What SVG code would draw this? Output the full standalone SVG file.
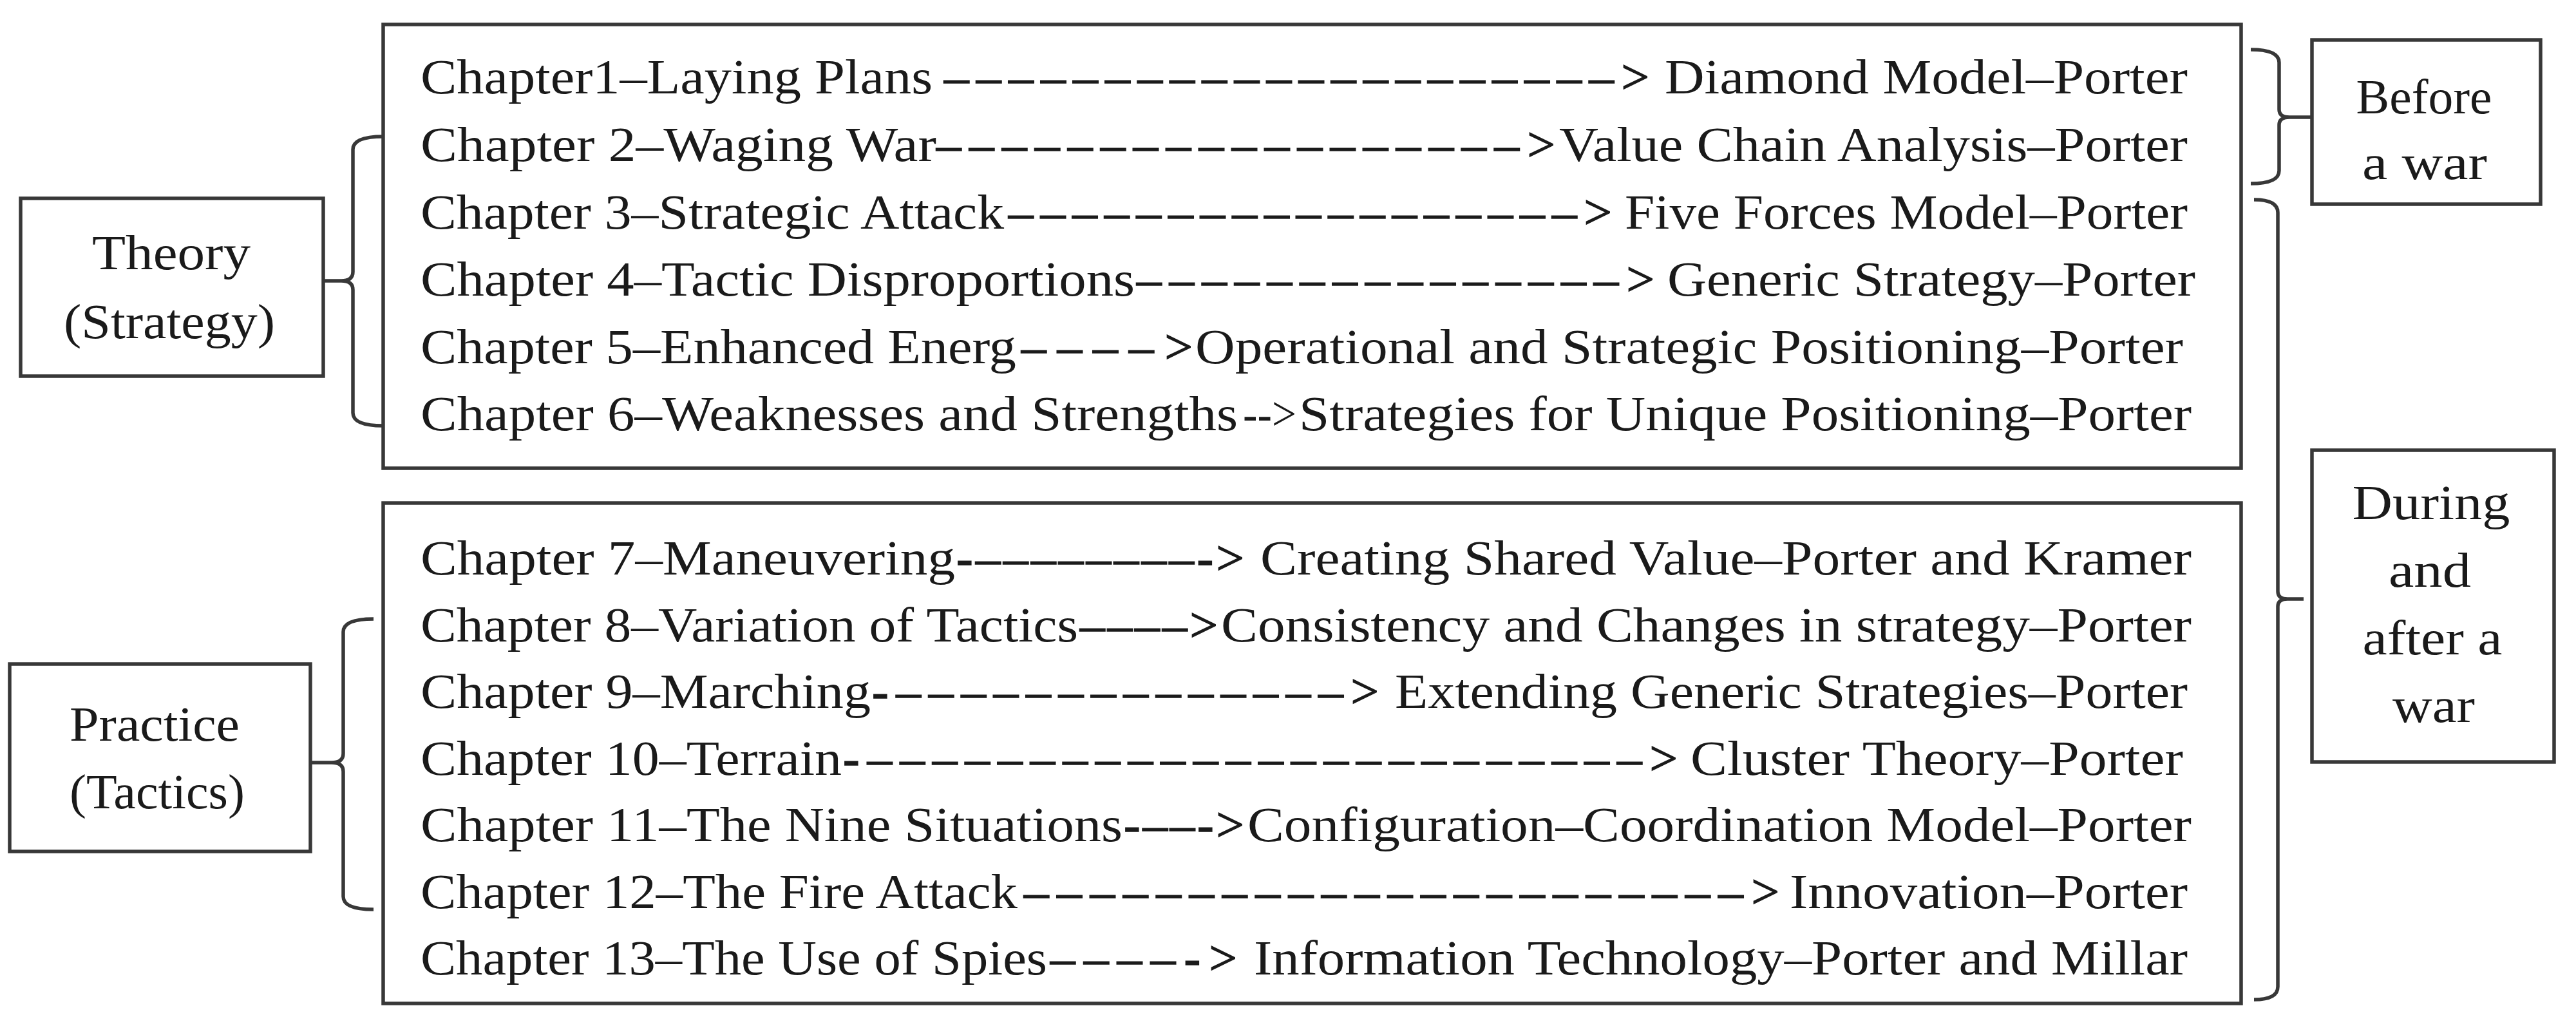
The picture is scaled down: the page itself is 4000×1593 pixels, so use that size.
<svg xmlns="http://www.w3.org/2000/svg" width="4000" height="1593" viewBox="0 0 4000 1593">
<style>
  .box { fill: #ffffff; stroke: #383838; stroke-width: 5.5; }
  .brace { fill: none; stroke: #383838; stroke-width: 5.5; stroke-linejoin: round; stroke-linecap: butt; }
  text { font-family: "Liberation Serif", "Times New Roman", serif; font-size: 77px; fill: #1a1a1a; }
  .dash { stroke: #1a1a1a; stroke-width: 1.5; }
  .lbl { text-anchor: middle; }
</style>
<rect x="0" y="0" width="4000" height="1593" fill="#ffffff"/>

<g id="connectors">
  <path class="brace" d="M595,212 Q548,212 548,232 L548,422 Q548,436 530,436 L502,436 M530,436 Q548,436 548,450 L548,641 Q548,661 595,661"/>
  <path class="brace" d="M580,961 Q533,961 533,981 L533,1170 Q533,1184 515,1184 L484,1184 M515,1184 Q533,1184 533,1198 L533,1392 Q533,1412 580,1412"/>
  <path class="brace" d="M3495,77 Q3539,77 3539,97 L3539,170 Q3539,182 3555,182 L3590,182 M3555,182 Q3539,182 3539,194 L3539,265 Q3539,285 3495,285"/>
  <path class="brace" d="M3500,310 Q3537,310 3537,330 L3537,918 Q3537,930 3552,930 L3577,930 M3552,930 Q3537,930 3537,942 L3537,1532 Q3537,1552 3500,1552"/>
</g>

<g id="theory">
  <rect class="box" x="32" y="308" width="470" height="276"/>
  <text class="lbl" x="266" y="418" textLength="246" lengthAdjust="spacingAndGlyphs">Theory</text>
  <text class="lbl" x="263" y="525" textLength="328" lengthAdjust="spacingAndGlyphs">(Strategy)</text>
</g>

<g id="practice">
  <rect class="box" x="15" y="1031" width="467" height="291"/>
  <text class="lbl" x="240" y="1150" textLength="264" lengthAdjust="spacingAndGlyphs">Practice</text>
  <text class="lbl" x="244" y="1255" textLength="272" lengthAdjust="spacingAndGlyphs">(Tactics)</text>
</g>

<g id="before">
  <rect class="box" x="3590" y="62" width="355" height="255"/>
  <text class="lbl" x="3764" y="176" textLength="211" lengthAdjust="spacingAndGlyphs">Before</text>
  <text class="lbl" x="3765" y="278" textLength="194" lengthAdjust="spacingAndGlyphs">a war</text>
</g>

<g id="during">
  <rect class="box" x="3590" y="699" width="376" height="484"/>
  <text class="lbl" x="3775" y="806" textLength="245" lengthAdjust="spacingAndGlyphs">During</text>
  <text class="lbl" x="3773" y="911" textLength="128" lengthAdjust="spacingAndGlyphs">and</text>
  <text class="lbl" x="3777" y="1016" textLength="217" lengthAdjust="spacingAndGlyphs">after a</text>
  <text class="lbl" x="3779" y="1121" textLength="128" lengthAdjust="spacingAndGlyphs">war</text>
</g>

<g id="strategy-chapters">
  <rect class="box" x="595" y="38" width="2885" height="689"/>
  <g id="ch1">
    <text x="653" y="145" textLength="795" lengthAdjust="spacingAndGlyphs">Chapter1–Laying Plans</text>
    <text class="dash" x="1466" y="145" textLength="1095" lengthAdjust="spacing">–––––––––––––––––––––&gt;</text>
    <text x="2585" y="145" textLength="812" lengthAdjust="spacingAndGlyphs">Diamond Model–Porter</text>
  </g>
  <g id="ch2">
    <text x="653" y="250" textLength="801" lengthAdjust="spacingAndGlyphs">Chapter 2–Waging War</text>
    <text class="dash" x="1454" y="250" textLength="961" lengthAdjust="spacing">––––––––––––––––––&gt;</text>
    <text x="2421" y="250" textLength="976" lengthAdjust="spacingAndGlyphs">Value Chain Analysis–Porter</text>
  </g>
  <g id="ch3">
    <text x="653" y="355" textLength="906" lengthAdjust="spacingAndGlyphs">Chapter 3–Strategic Attack</text>
    <text class="dash" x="1566" y="355" textLength="937" lengthAdjust="spacing">––––––––––––––––––&gt;</text>
    <text x="2523" y="355" textLength="874" lengthAdjust="spacingAndGlyphs">Five Forces Model–Porter</text>
  </g>
  <g id="ch4">
    <text x="653" y="459" textLength="1109" lengthAdjust="spacingAndGlyphs">Chapter 4–Tactic Disproportions</text>
    <text class="dash" x="1765" y="459" textLength="804" lengthAdjust="spacing">–––––––––––––––&gt;</text>
    <text x="2589" y="459" textLength="820" lengthAdjust="spacingAndGlyphs">Generic Strategy–Porter</text>
  </g>
  <g id="ch5">
    <text x="653" y="564" textLength="925" lengthAdjust="spacingAndGlyphs">Chapter 5–Enhanced Energ</text>
    <text class="dash" x="1586" y="564" textLength="266" lengthAdjust="spacing">––––&gt;</text>
    <text x="1856" y="564" textLength="1534" lengthAdjust="spacingAndGlyphs">Operational and Strategic Positioning–Porter</text>
  </g>
  <g id="ch6">
    <text x="653" y="668" textLength="1269" lengthAdjust="spacingAndGlyphs">Chapter 6–Weaknesses and Strengths</text>
    <text x="1930" y="668" textLength="83" lengthAdjust="spacingAndGlyphs">--&gt;</text>
    <text x="2017" y="668" textLength="1386" lengthAdjust="spacingAndGlyphs">Strategies for Unique Positioning–Porter</text>
  </g>
</g>

<g id="tactics-chapters">
  <rect class="box" x="595" y="781" width="2885" height="777"/>
  <g id="ch7">
    <text x="653" y="892" textLength="830" lengthAdjust="spacingAndGlyphs">Chapter 7–Maneuvering</text>
    <text class="dash" x="1485" y="892" textLength="447" lengthAdjust="spacing">-––––––––-&gt;</text>
    <text x="1957" y="892" textLength="1446" lengthAdjust="spacingAndGlyphs">Creating Shared Value–Porter and Kramer</text>
  </g>
  <g id="ch8">
    <text x="653" y="996" textLength="1021" lengthAdjust="spacingAndGlyphs">Chapter 8–Variation of Tactics</text>
    <text class="dash" x="1677" y="996" textLength="214" lengthAdjust="spacing">––––&gt;</text>
    <text x="1896" y="996" textLength="1507" lengthAdjust="spacingAndGlyphs">Consistency and Changes in strategy–Porter</text>
  </g>
  <g id="ch9">
    <text x="653" y="1099" textLength="699" lengthAdjust="spacingAndGlyphs">Chapter 9–Marching</text>
    <text class="dash" x="1354" y="1099" textLength="787" lengthAdjust="spacing">-––––––––––––––&gt;</text>
    <text x="2166" y="1099" textLength="1231" lengthAdjust="spacingAndGlyphs">Extending Generic Strategies–Porter</text>
  </g>
  <g id="ch10">
    <text x="653" y="1203" textLength="654" lengthAdjust="spacingAndGlyphs">Chapter 10–Terrain</text>
    <text class="dash" x="1309" y="1203" textLength="1296" lengthAdjust="spacing">-––––––––––––––––––––––––&gt;</text>
    <text x="2625" y="1203" textLength="765" lengthAdjust="spacingAndGlyphs">Cluster Theory–Porter</text>
  </g>
  <g id="ch11">
    <text x="653" y="1306" textLength="1090" lengthAdjust="spacingAndGlyphs">Chapter 11–The Nine Situations</text>
    <text class="dash" x="1745" y="1306" textLength="187" lengthAdjust="spacing">-––-&gt;</text>
    <text x="1937" y="1306" textLength="1466" lengthAdjust="spacingAndGlyphs">Configuration–Coordination Model–Porter</text>
  </g>
  <g id="ch12">
    <text x="653" y="1410" textLength="927" lengthAdjust="spacingAndGlyphs">Chapter 12–The Fire Attack</text>
    <text class="dash" x="1590" y="1410" textLength="1173" lengthAdjust="spacing">––––––––––––––––––––––&gt;</text>
    <text x="2779" y="1410" textLength="618" lengthAdjust="spacingAndGlyphs">Innovation–Porter</text>
  </g>
  <g id="ch13">
    <text x="653" y="1513" textLength="973" lengthAdjust="spacingAndGlyphs">Chapter 13–The Use of Spies</text>
    <text class="dash" x="1631" y="1513" textLength="290" lengthAdjust="spacing">––––-&gt;</text>
    <text x="1947" y="1513" textLength="1450" lengthAdjust="spacingAndGlyphs">Information Technology–Porter and Millar</text>
  </g>
</g>
</svg>
